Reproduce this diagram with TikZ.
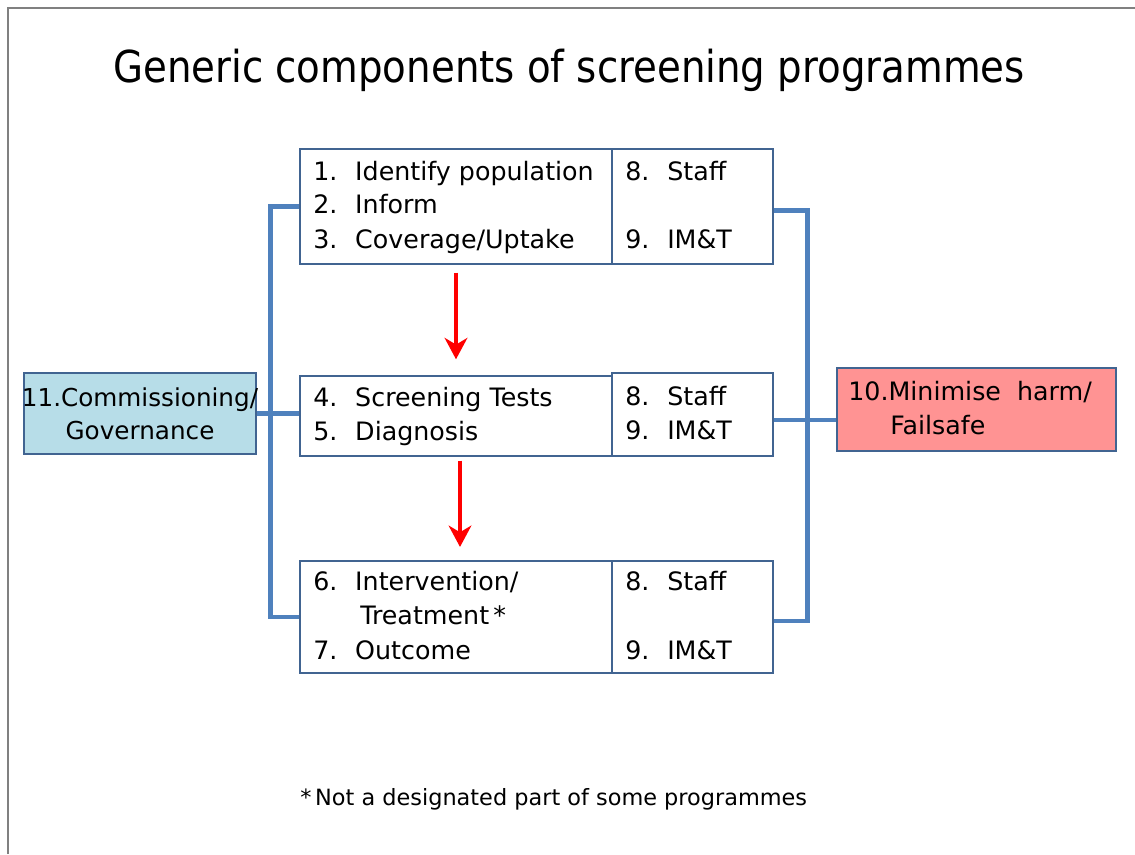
\documentclass[tikz,border=0pt]{standalone}
\usepackage{fontspec}
\setmainfont{DejaVu Sans}
\newfontfamily\titlefont{DejaVu Sans}[FakeStretch=0.88]
\usetikzlibrary{fit,arrows.meta}
\definecolor{conn}{RGB}{79,129,189}
\definecolor{boxline}{RGB}{65,100,145}
\definecolor{govfill}{RGB}{183,221,232}
\definecolor{harmfill}{RGB}{255,147,147}
\definecolor{framegray}{RGB}{128,128,128}
\tikzset{
 cell/.style={draw=boxline, line width=1.1pt, inner sep=0pt},
 txt/.style={anchor=base west, inner sep=0pt, font=\fontsize{19}{22}\selectfont},
 blueline/.style={draw=conn, line width=3.4pt},
 redarrow/.style={draw=red, line width=3pt, -{Stealth[length=16pt,width=17pt,inset=5pt]}},
}
\newcommand{\itemno}[1]{\makebox[31.5pt][l]{#1}}
\begin{document}
\begin{tikzpicture}[x=0.75pt,y=-0.75pt]
\useasboundingbox (0,0) rectangle (1135,854);
\fill[white] (0,0) rectangle (1135,854);
\draw[framegray, line width=2pt] (8,854) -- (8,8) -- (1135,8);
\node[anchor=base, inner sep=0pt, font=\titlefont\fontsize{33}{36}\selectfont] (title) at (569,82) {Generic components of screening programmes};

% boxes
\node[cell, fit={(300,149) (612,264)}] (A1) {};
\node[cell, fit={(612,149) (773,264)}] (A2) {};
\node[cell, fit={(300,376) (612,456)}] (B1) {};
\node[cell, fit={(612,373) (773,456)}] (B2) {};
\node[cell, fit={(300,561) (612,673)}] (C1) {};
\node[cell, fit={(612,561) (773,673)}] (C2) {};
\node[cell, fill=govfill, fit={(24,373) (256,454)}] (gov) {};
\node[cell, fill=harmfill, fit={(837,368) (1116,451)}] (harm) {};

% connectors
\draw[blueline] (A1.west) -- ++(-29,0) |- (C1.west);
\draw[blueline] (gov.east) -- (gov.east -| B1.west);
\draw[blueline] ([yshift=-3pt]A2.east) -- ++(34,0) |- ([yshift=-3pt]C2.east);
\draw[blueline] ([yshift=-4pt]B2.east) -- ([yshift=-4pt]B2.east -| harm.west);
\draw[redarrow, shorten <=6pt, shorten >=12pt] (A1.south) -- (B1.north);
\draw[redarrow, shorten <=3pt, shorten >=10pt] ([xshift=3pt]B1.south) -- ([xshift=3pt]C1.north);

% texts
\node[txt] (a1) at (313,180) {\itemno{1.}Identify population};
\node[txt] (a2) at (313,213) {\itemno{2.}Inform};
\node[txt] (a3) at (313,248) {\itemno{3.}Coverage/Uptake};
\node[txt] (a8) at (625,180) {\itemno{8.}Staff};
\node[txt] (a9) at (625,248) {\itemno{9.}IM\&T};
\node[txt] (b4) at (313,406) {\itemno{4.}Screening Tests};
\node[txt] (b5) at (313,440) {\itemno{5.}Diagnosis};
\node[txt] (b8) at (625,405) {\itemno{8.}Staff};
\node[txt] (b9) at (625,439) {\itemno{9.}IM\&T};
\node[txt] (c6) at (313,590) {\itemno{6.}Intervention/};
\node[txt] (c6b) at (360,624) {Treatment\,*};
\node[txt] (c7) at (313,659) {\itemno{7.}Outcome};
\node[txt] (c8) at (625,590) {\itemno{8.}Staff};
\node[txt] (c9) at (625,659) {\itemno{9.}IM\&T};
\node[align=center, inner sep=0pt, font=\fontsize{18.5}{24.75}\selectfont] (govtxt) at (gov.center) {11.Commissioning/\\Governance};
\node[txt] (harm1) at (848,400) {10.Minimise~~harm/};
\node[txt] (harm2) at (890,434) {Failsafe};
\node[anchor=base west, inner sep=0pt, font=\fontsize{16.8}{20}\selectfont] (note) at (300,805) {*\,Not a designated part of some programmes};
\end{tikzpicture}
\end{document}
